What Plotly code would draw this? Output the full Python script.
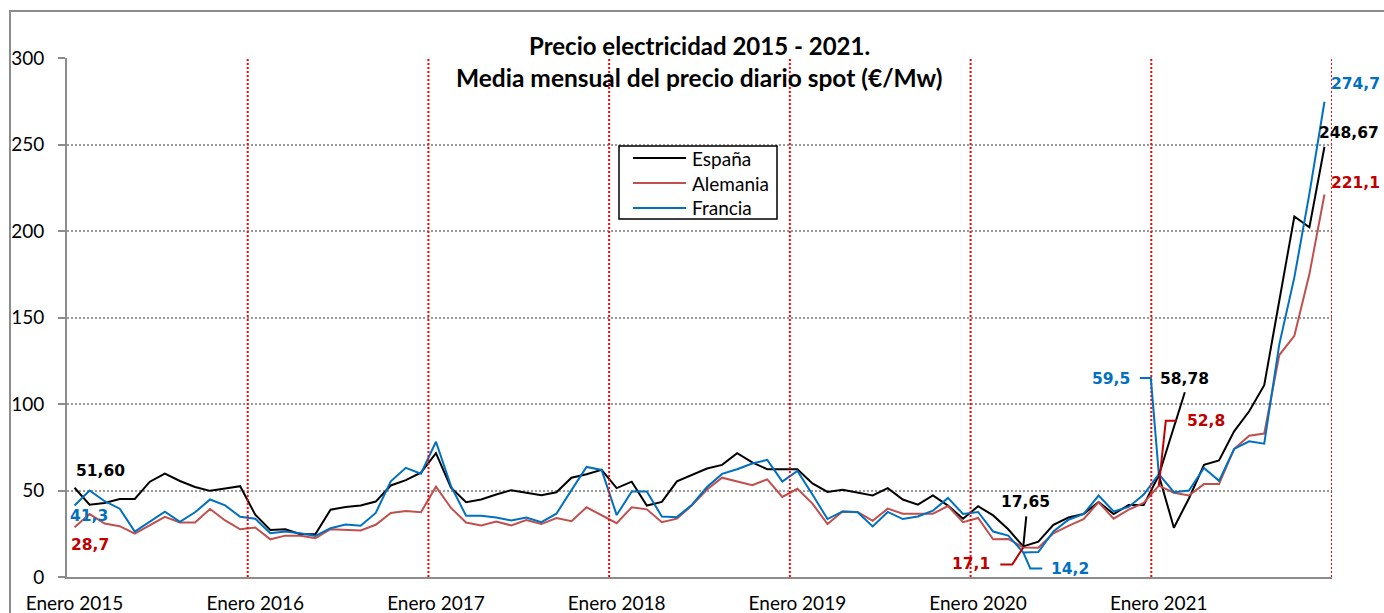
import plotly.graph_objects as go

# ---------------- data ----------------
years = [2015, 2016, 2017, 2018, 2019, 2020, 2021]
month_abbr = ["Ene", "Feb", "Mar", "Abr", "May", "Jun", "Jul", "Ago", "Sep", "Oct", "Nov", "Dic"]
months = [f"{m} {y}" for y in years for m in month_abbr]
tick_labels = [f"Enero {y}" for y in years]
series_names = ["España", "Alemania", "Francia"]

espana = [51.60, 41.8, 42.8, 45.1, 45.1, 55.1, 59.7, 55.5, 52.0, 49.8, 51.2, 52.5,
          36.0, 27.2, 27.6, 24.7, 24.9, 38.9, 40.5, 41.3, 43.6, 52.9, 56.0, 60.3,
          71.6, 51.6, 43.2, 44.8, 47.7, 50.2, 48.7, 47.3, 49.0, 57.4, 59.4, 61.9,
          51.4, 55.1, 41.3, 43.4, 55.3, 58.8, 62.7, 64.8, 71.6, 66.2, 62.3, 62.3,
          62.3, 54.1, 49.2, 50.4, 48.7, 47.1, 51.4, 44.8, 41.8, 47.1, 41.3, 33.7,
          40.9, 35.6, 27.6, 17.65, 20.4, 30.2, 34.4, 36.4, 43.4, 36.4, 41.6, 41.6,
          58.78, 28.5, 45.4, 64.9, 67.4, 84.2, 95.8, 110.9, 159.7, 208.4, 202.2, 248.67]

alemania = [28.7, 36.4, 30.9, 29.4, 25.1, 30.0, 34.8, 31.5, 31.5, 39.3, 32.7, 27.6,
            28.6, 21.8, 23.9, 23.9, 22.4, 27.6, 27.2, 26.9, 30.2, 37.0, 38.1, 37.4,
            52.2, 39.9, 31.5, 29.8, 32.1, 29.8, 32.9, 30.6, 34.1, 32.3, 40.3, 35.6,
            31.1, 40.3, 39.1, 31.7, 33.7, 41.4, 50.6, 57.4, 55.3, 53.1, 56.4, 46.3,
            51.0, 42.4, 30.6, 37.9, 37.6, 32.5, 39.5, 36.6, 36.6, 36.6, 41.0, 31.7,
            34.1, 21.8, 22.0, 17.1, 16.9, 25.3, 29.6, 33.5, 43.2, 33.7, 38.9, 42.8,
            52.8, 48.7, 47.1, 53.7, 53.7, 74.0, 81.7, 82.9, 128.3, 139.4, 175.1, 221.1]

francia = [41.3, 50.0, 43.8, 39.5, 26.3, 32.1, 37.8, 31.9, 37.4, 44.8, 41.4, 34.8,
           33.7, 25.3, 26.3, 25.3, 23.7, 28.2, 30.4, 29.6, 37.0, 55.3, 63.1, 59.7,
           78.2, 52.5, 35.4, 35.4, 34.4, 32.7, 34.4, 31.7, 36.6, 50.2, 63.6, 61.9,
           35.8, 49.4, 49.4, 35.0, 34.6, 41.8, 52.0, 59.6, 62.3, 65.6, 67.7, 55.1,
           61.3, 47.7, 33.5, 37.9, 37.4, 29.2, 37.6, 33.5, 35.0, 38.3, 45.7, 36.4,
           37.6, 26.3, 23.9, 14.2, 14.4, 26.3, 33.1, 36.4, 47.1, 37.9, 40.5, 47.7,
           59.5, 49.0, 50.0, 63.0, 55.6, 74.0, 78.4, 77.1, 134.5, 173.2, 221.6, 274.7]

x_idx = list(range(len(months)))
tick_idx = [months.index(f"Ene {y}") for y in years]

# ---------------- styles ----------------
C_ES, C_DE, C_FR = "#000000", "#C0504D", "#0070C0"
L_ES, L_DE, L_FR = "#000000", "#C00000", "#0070C0"
TICK_FONT = dict(family="Lato", size=19, color="#000000")
LAB_FONT = "DejaVu Sans"

W, H = 1384, 613
ML, MR, MT, MB = 67, 52, 58, 36
PW, PH = W - ML - MR, H - MT - MB


def px_x(px):  # page pixel -> paper x
    return (px - ML) / PW


def px_y(py):  # page pixel -> paper y
    return (H - MB - py) / PH


fig = go.Figure()
for name, vals, col in zip(series_names, [espana, alemania, francia], [C_ES, C_DE, C_FR]):
    fig.add_trace(go.Scatter(x=x_idx, y=vals, mode="lines", name=name,
                             line=dict(color=col, width=2), showlegend=False))

# red dotted year separators
for y in years[1:] + [years[-1] + 1]:
    xb = 12 * (y - years[0]) - 0.5
    fig.add_shape(type="line", xref="x", yref="y", x0=xb, x1=xb, y0=0, y1=300,
                  line=dict(color="#FF0000", width=2, dash="2px,2px"), layer="above")

# outer chart frame
fig.add_shape(type="rect", xref="paper", yref="paper", x0=px_x(10), x1=1.5, y0=-0.5, y1=px_y(11),
              line=dict(color="#8C8C8C", width=2), layer="below")

# legend box (drawn like the original Excel legend)
fig.add_shape(type="rect", xref="paper", yref="paper", x0=px_x(619), x1=px_x(777),
              y0=px_y(219), y1=px_y(146), line=dict(color="#000000", width=1.5),
              fillcolor="#FFFFFF", layer="above")
for k, (name, col) in enumerate(zip(series_names, [C_ES, C_DE, C_FR])):
    ly = 158 + 25 * k
    fig.add_shape(type="line", xref="paper", yref="paper", x0=px_x(633), x1=px_x(686),
                  y0=px_y(ly), y1=px_y(ly), line=dict(color=col, width=2), layer="above")
    fig.add_annotation(x=px_x(690), y=px_y(ly), xref="paper", yref="paper", text=name,
                       showarrow=False, xanchor="left", yanchor="middle",
                       font=dict(family="Lato", size=19, color="#000000"))


def fmt(v, d):
    return f"{v:.{d}f}".replace(".", ",")


labels = [
    # (series, index, decimals, color, xshift, yshift)
    (espana, 0, 2, L_ES, 25.5, 16.7),
    (francia, 0, 1, L_FR, 14, -10.5),
    (alemania, 0, 1, L_DE, 15, -17.7),
    (espana, 63, 2, L_ES, 2.6, 44),
    (alemania, 63, 1, L_DE, -52, -17),
    (francia, 63, 1, L_FR, 46.6, -16.6),
    (francia, 72, 1, L_FR, -48, 95.5),
    (espana, 72, 2, L_ES, 26, 96.3),
    (alemania, 72, 1, L_DE, 47, 64.7),
    (francia, 83, 1, L_FR, 31, 17.8),
    (espana, 83, 2, L_ES, 25, 13.8),
    (alemania, 83, 1, L_DE, 31, 12),
]
for ser, i, d, col, xs, ys in labels:
    fig.add_annotation(x=x_idx[i], y=ser[i], xref="x", yref="y", text=fmt(ser[i], d),
                       showarrow=False, xshift=xs, yshift=ys, xanchor="center", yanchor="middle",
                       font=dict(family=LAB_FONT, size=15.5, color=col, weight="bold"))

# leader lines (pixel offsets relative to the data point)
leaders = [
    (espana, 63, L_ES, "M0,0 L3,30"),
    (alemania, 63, L_DE, "M-23,-17 L-11,-17 L0,0"),
    (francia, 63, L_FR, "M0,0 L7,-16 L19,-16"),
    (francia, 72, L_FR, "M0,0 L-8,96 L-19,96"),
    (espana, 72, L_ES, "M0,0 L26,83"),
    (alemania, 72, L_DE, "M0,0 L7,65 L18,65"),
]
for ser, i, col, path in leaders:
    fig.add_shape(type="path", xref="x", yref="y", xsizemode="pixel", ysizemode="pixel",
                  xanchor=x_idx[i], yanchor=ser[i], path=path,
                  line=dict(color=col, width=2), layer="above")

# title (two lines)
fig.add_annotation(x=0.5, y=px_y(45), xref="paper", yref="paper", showarrow=False,
                   text="Precio electricidad 2015 - 2021.", xanchor="center", yanchor="middle",
                   font=dict(family="Lato", size=24, color="#000000", weight="bold"))
fig.add_annotation(x=0.5, y=px_y(77), xref="paper", yref="paper", showarrow=False,
                   text="Media mensual del precio diario spot (€/Mw)", xanchor="center", yanchor="middle",
                   font=dict(family="Lato", size=24.5, color="#000000", weight="bold"))

fig.update_layout(
    width=W, height=H, autosize=False,
    margin=dict(l=ML, r=MR, t=MT, b=MB),
    paper_bgcolor="#FFFFFF", plot_bgcolor="#FFFFFF",
    showlegend=False,
    xaxis=dict(range=[-0.5, len(months) - 0.5], tickmode="array", tickvals=tick_idx,
               ticktext=tick_labels, showgrid=False, zeroline=False, showline=True,
               linecolor="#8C8C8C", linewidth=2, ticks="", tickfont=TICK_FONT,
               ticklabelstandoff=8, automargin=False),
    yaxis=dict(range=[0, 300], tickmode="array", tickvals=[0, 50, 100, 150, 200, 250, 300],
               showgrid=True, gridcolor="#9A9A9A", gridwidth=1.5, griddash="2px,2px",
               zeroline=False, showline=True, linecolor="#8C8C8C", linewidth=2,
               ticks="outside", ticklen=7, tickcolor="#8C8C8C", tickwidth=1.5,
               tickfont=TICK_FONT, ticklabelstandoff=10, automargin=False),
)

fig.write_html("out.html", config={"displayModeBar": False},
               post_script="document.body.style.margin='0px';document.body.style.overflow='hidden';")
